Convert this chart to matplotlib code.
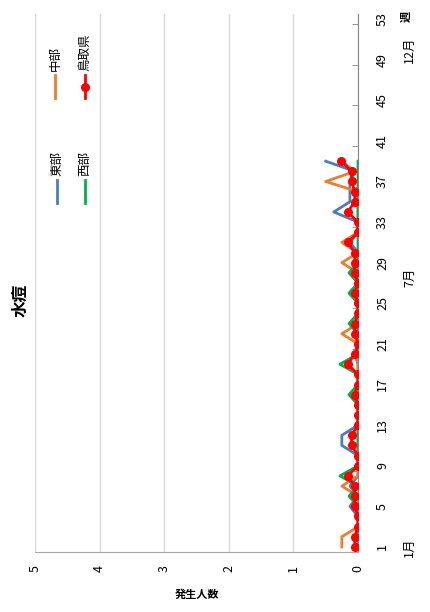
import numpy as np
import matplotlib
matplotlib.use("Agg")
import matplotlib.pyplot as plt
from matplotlib.lines import Line2D

plt.rcParams['font.family'] = ['Noto Sans CJK JP', 'DejaVu Sans']

# 週 1..39 の定点当たり報告数
weeks = list(range(1, 40))
east = [0, 0, 0, 0, 0.125, 0, 0.125, 0, 0, 0,
        0.25, 0.25, 0, 0, 0, 0, 0, 0, 0, 0.05,
        0, 0, 0, 0, 0, 0, 0, 0, 0, 0,
        0.125, 0, 0, 0.375, 0.125, 0.125, 0.125, 0.05, 0.5]
central = [0.25, 0.25, 0, 0, 0, 0, 0.25, 0, 0, 0,
           0, 0, 0, 0, 0, 0, 0, 0, 0, 0,
           0, 0.25, 0, 0, 0, 0, 0, 0, 0.25, 0,
           0.25, 0, 0, 0, 0, 0, 0.5, 0.05, 0.25]
west = [0, 0, 0, 0, 0, 0.14, 0, 0.28, 0, 0,
        0, 0, 0, 0, 0, 0.14, 0, 0, 0.28, 0,
        0, 0, 0.14, 0, 0, 0.14, 0, 0.14, 0, 0,
        0, 0, 0, 0, 0, 0, 0, 0, 0]
pref = [0.05, 0.05, 0, 0, 0.05, 0.05, 0.05, 0.16, 0, 0,
        0.1, 0.1, 0, 0, 0, 0.05, 0, 0, 0.16, 0.05,
        0, 0.05, 0.05, 0, 0, 0.05, 0, 0.05, 0.05, 0.05,
        0.16, 0, 0, 0.16, 0.05, 0.05, 0.1, 0.1, 0.26]

week_ticks = list(range(1, 54, 4))
value_ticks = [0, 1, 2, 3, 4, 5]
months = [(1, '1月'), (27.6, '7月'), (50, '12月')]

c_east, c_cent, c_west, c_pref = '#4a7ebb', '#ed7d31', '#00b050', '#ff0000'

W, H = 430, 612
fig = plt.figure(figsize=(W / 100, H / 100), dpi=100)
ax = fig.add_axes([35 / W, 60 / H, 323 / W, 538 / H])

# the chart is laid out turned 90 deg: values run right-to-left, weeks bottom-to-top
ax.plot(east, weeks, color=c_east, lw=2, zorder=3)
ax.plot(central, weeks, color=c_cent, lw=2, zorder=3)
ax.plot(west, weeks, color=c_west, lw=2, zorder=4)
ax.plot(pref, weeks, color=c_pref, lw=2, marker='o', ms=5.5, zorder=5)

ax.set_xlim(5, 0)
ax.set_ylim(0.5, 53.5)

ax.set_xticks(value_ticks)
ax.set_xticklabels([str(v) for v in value_ticks], rotation=90, fontsize=9)
ax.tick_params(axis='x', length=0, pad=9)
ax.grid(axis='x', color='#d9d9d9', lw=1)

ax.yaxis.tick_right()
ax.set_yticks(week_ticks)
ax.set_yticklabels([str(w) for w in week_ticks], rotation=90, va='center', fontsize=9)
ax.set_yticks(np.arange(0.5, 54, 4), minor=True)
ax.tick_params(axis='y', which='major', length=0, pad=13)
ax.tick_params(axis='y', which='minor', length=4, direction='in', color='#868686')

for s in ['top', 'left']:
    ax.spines[s].set_visible(False)
ax.spines['right'].set_color('#868686')
ax.spines['bottom'].set_color('#a6a6a6')

# month labels and axis titles
for wk, lab in months:
    ax.text(-0.8, wk, lab, rotation=90, ha='center', va='center', fontsize=9,
            clip_on=False)
ax.text(-0.75, 53.3, '週', rotation=90, ha='center', va='center', fontsize=8,
        fontweight='bold', clip_on=False)
fig.text(197 / W, 1 - 594 / H, '発生人数', ha='center', va='center',
         fontsize=8, fontweight='bold')

fig.text(20 / W, 1 - 300 / H, '水痘', rotation=90, ha='center', va='center',
         fontsize=12, fontweight='bold')

# legend, turned the same way
legend_items = [('東部', c_east, 57, 203, False), ('西部', c_west, 85, 203, False),
                ('中部', c_cent, 55, 98, False), ('鳥取県', c_pref, 85, 98, True)]
for lab, col, px, py, mk in legend_items:
    fig.add_artist(Line2D([px / W, px / W], [1 - py / H, 1 - (py - 23) / H], color=col,
                          lw=2, transform=fig.transFigure))
    if mk:
        fig.add_artist(Line2D([px / W], [1 - (py - 11.5) / H], color=col, marker='o',
                              ms=5.5, transform=fig.transFigure))
    fig.text(px / W, 1 - (py - 27) / H, lab, rotation=90, ha='center', va='bottom',
             fontsize=9)

fig.savefig('out.png', dpi=100)
